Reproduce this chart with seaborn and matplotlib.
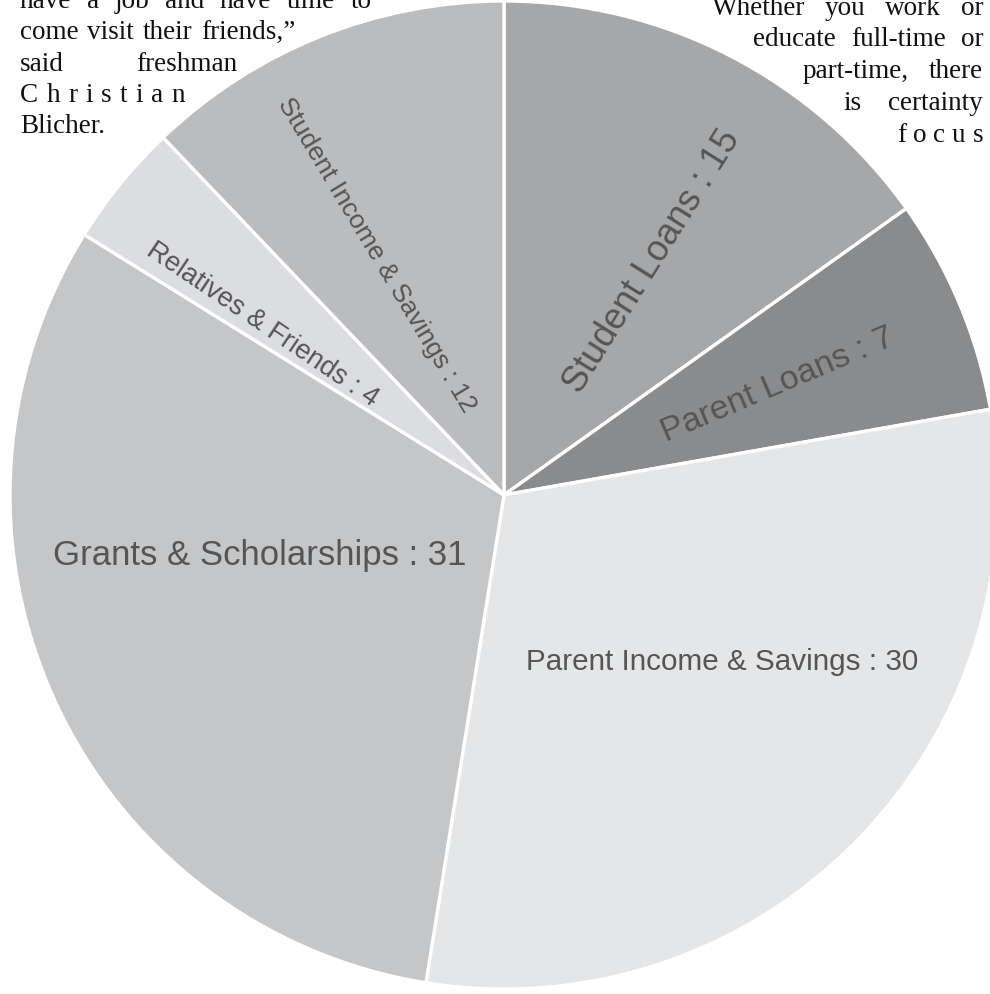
import numpy as np
import matplotlib
matplotlib.use("Agg")
import matplotlib.pyplot as plt
import seaborn as sns

# ---- data ----
categories = ["Student Loans", "Parent Loans", "Parent Income & Savings",
              "Grants & Scholarships", "Relatives & Friends", "Student Income & Savings"]
values = [15, 7, 30, 31, 4, 12]

# ---- styles ----
colors = ["#a6a7a9", "#8a8b8d", "#e5e6e8", "#c5c6c8", "#dcdde0", "#bbbcbe"]
label_sizes = [26, 24.5, 21.3, 25, 19.5, 19]
label_rot = [58, 23, 0, 0, -34, -59]
label_shift = [-5.0, -0.65, 7.2, -10.9, 3.85, 6.0]
label_rfrac = [0.561, 0.598, 0.555, 0.508, 0.600, 0.551]

left_lines = [["have", "a", "job", "and", "have", "time", "to"],
              ["come", "visit", "their", "friends,\u201d"],
              ["said", "freshman"],
              list("Christian"),
              ["Blicher."]]
right_lines = [["Whether", "you", "work", "or"],
               ["educate", "full-time", "or"],
               ["part-time,", "there"],
               ["is", "certainty"],
               list("focus")]

sns.set_theme(style="white")
plt.rcParams["font.family"] = ["Liberation Sans", "DejaVu Sans"]

W, H = 990, 995
fig = plt.figure(figsize=(W / 100, H / 100), dpi=100)
ax = fig.add_axes([0, 0, 1, 1])

cx, cy_px, R = 504, 496, 494
cy = H - cy_px
wedges, _ = ax.pie(values, colors=colors, startangle=90, counterclock=False,
                   center=(cx, cy), radius=R,
                   wedgeprops=dict(edgecolor="white", linewidth=2.4),
                   frame=True)
ax.set_xlim(0, W)
ax.set_ylim(0, H)
ax.set_aspect("auto")
ax.axis("off")

for i, (w, cat, v) in enumerate(zip(wedges, categories, values)):
    mid = (w.theta1 + w.theta2) / 2 + label_shift[i]
    rr = R * label_rfrac[i]
    x = cx + rr * np.cos(np.deg2rad(mid))
    y = cy + rr * np.sin(np.deg2rad(mid))
    ax.text(x, y, f"{cat} : {v}", ha="center", va="center", rotation=label_rot[i],
            rotation_mode="anchor", fontsize=label_sizes[i], color="#555555")

# ---- surrounding newspaper text ----
serif = ["Liberation Serif", "DejaVu Serif"]
renderer = fig.canvas.get_renderer()


def place_line(words, x0, x1, base_py, justify=True):
    texts = [ax.text(0, H - base_py, wd, ha="left", va="baseline", family=serif,
                     fontsize=19.5, color="#111111") for wd in words]
    widths = [t.get_window_extent(renderer).width for t in texts]
    if not justify or len(words) == 1:
        texts[0].set_x(x0)
        return
    gap = (x1 - x0 - sum(widths)) / (len(words) - 1)
    x = x0
    for t, wdt in zip(texts, widths):
        t.set_x(x)
        x += wdt + gap


left_spans = [(20, 372, 8), (20, 295, 39), (20, 237, 71), (20, 185, 102), (20, None, 133)]
for words, (x0, x1, b) in zip(left_lines, left_spans):
    place_line(words, x0, x1, b, justify=x1 is not None)

right_spans = [(712, 983, 15), (753, 983, 46), (803, 983, 78), (843, 983, 110), (897, 983, 142)]
for words, (x0, x1, b) in zip(right_lines, right_spans):
    place_line(words, x0, x1, b)

fig.savefig("out.png", dpi=100, facecolor="white")
